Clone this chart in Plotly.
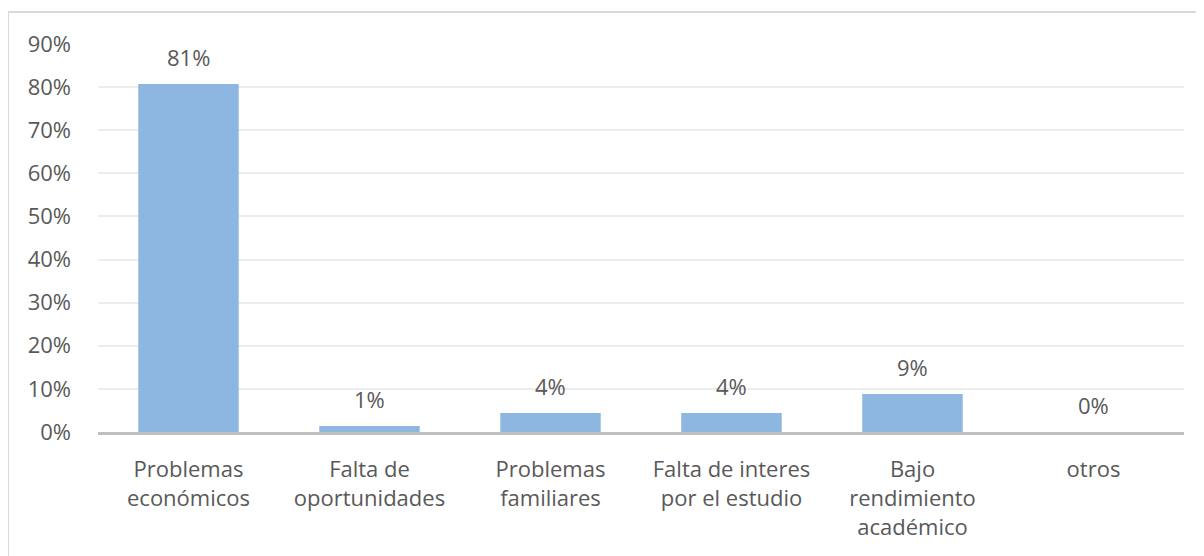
import plotly.graph_objects as go

categories = ["Problemas<br>económicos", "Falta de<br>oportunidades", "Problemas<br>familiares",
              "Falta de interes<br>por el estudio", "Bajo<br>rendimiento<br>académico", "otros"]
values = [0.807, 0.014, 0.044, 0.044, 0.088, 0.0]
y_ticks = [0, 0.1, 0.2, 0.3, 0.4, 0.5, 0.6, 0.7, 0.8, 0.9]

# page body has an 8px margin; figure coords are screen coords minus 8
W, H = 1196, 548
L, R, T, B = 90, 20, 36, 124
pw, ph = W - L - R, H - T - B

txt = "#595959"
font = dict(family="Open Sans", size=22, color=txt)

fig = go.Figure(go.Bar(
    x=categories, y=values,
    marker=dict(color="#8DB6E1", line=dict(width=0)),
    width=0.555,
))

for c, v in zip(categories, values):
    fig.add_annotation(x=c, y=v, xref="x", yref="y", text=f"{v:.0%}",
                       showarrow=False, yanchor="middle", yshift=27, font=font)

def sx(x):
    return (x - 8 - L) / pw

def sy(y):
    return (H - B - (y - 8)) / ph

fig.add_shape(type="rect", xref="paper", yref="paper",
              x0=sx(8), x1=sx(1240), y0=sy(620), y1=sy(12),
              line=dict(color="#D9D9D9", width=2), fillcolor="rgba(0,0,0,0)", layer="below")

fig.update_layout(
    width=W, height=H,
    margin=dict(l=L, r=R, t=T, b=B, pad=0),
    paper_bgcolor="white", plot_bgcolor="white",
    showlegend=False, font=font,
)
fig.update_yaxes(range=[0, 0.9], tickvals=y_ticks, tickformat=".0%",
                 showgrid=True, gridcolor="#EDEDED", gridwidth=1.5,
                 zeroline=False, showline=False, ticks="",
                 ticklabelstandoff=26, tickfont=font)
fig.update_xaxes(showline=True, linecolor="#BFBFBF", linewidth=3,
                 ticks="", tickfont=font, ticklabelstandoff=16)

fig.write_html("out.html")
